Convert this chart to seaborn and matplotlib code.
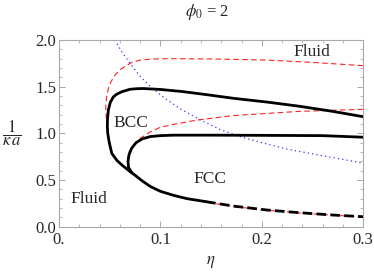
import numpy as np
import pandas as pd
import seaborn as sns
import matplotlib.pyplot as plt
from matplotlib.ticker import MultipleLocator, FixedFormatter, FixedLocator

# Phase boundaries (eta, 1/(kappa a))
outer_black_eta = [0.3, 0.27, 0.237, 0.205, 0.172, 0.145, 0.122, 0.1, 0.083, 0.0766, 0.07,
                   0.062, 0.057, 0.0535, 0.0505, 0.0486, 0.0478, 0.0476, 0.048, 0.0495,
                   0.052, 0.057, 0.062, 0.07, 0.075, 0.082, 0.09, 0.1, 0.113, 0.126, 0.145]
outer_black_inv = [1.178, 1.235, 1.29, 1.335, 1.375, 1.415, 1.447, 1.47, 1.48, 1.478, 1.472,
                   1.446, 1.42, 1.39, 1.33, 1.25, 1.16, 1.07, 1.0, 0.9,
                   0.785, 0.71, 0.66, 0.59, 0.55, 0.49, 0.43, 0.378, 0.335, 0.30, 0.267]

tail_black_eta = [0.145, 0.172, 0.205, 0.237, 0.27, 0.3]
tail_black_inv = [0.267, 0.22, 0.178, 0.149, 0.124, 0.106]

inner_black_eta = [0.072, 0.0685, 0.068, 0.069, 0.0716, 0.076, 0.082, 0.09, 0.1, 0.113,
                   0.15, 0.2, 0.26, 0.3]
inner_black_inv = [0.575, 0.63, 0.7, 0.77, 0.84, 0.9, 0.94, 0.965, 0.975, 0.98,
                   0.98, 0.978, 0.975, 0.958]

outer_red_eta = [0.3, 0.25, 0.205, 0.15, 0.106, 0.09, 0.08, 0.072, 0.067, 0.06, 0.055,
                 0.051, 0.0486, 0.047, 0.046, 0.0465, 0.0472, 0.048, 0.0495, 0.052, 0.057,
                 0.062, 0.07, 0.075, 0.082, 0.09, 0.1, 0.113, 0.126, 0.145, 0.172, 0.205,
                 0.237, 0.27, 0.3]
outer_red_inv = [1.725, 1.76, 1.785, 1.797, 1.8, 1.795, 1.785, 1.76, 1.73, 1.68, 1.62,
                 1.55, 1.48, 1.4, 1.285, 1.18, 1.1, 1.0, 0.9, 0.785, 0.71,
                 0.66, 0.59, 0.55, 0.49, 0.43, 0.376, 0.333, 0.298, 0.262, 0.215, 0.175,
                 0.146, 0.122, 0.104]

inner_red_eta = [0.3, 0.237, 0.172, 0.135, 0.113, 0.1, 0.09, 0.08, 0.073, 0.069, 0.0675,
                 0.069, 0.073]
inner_red_inv = [1.257, 1.235, 1.19, 1.14, 1.095, 1.065, 1.015, 0.945, 0.87, 0.8, 0.72,
                 0.64, 0.58]

blue_eta = [0.055, 0.062, 0.07, 0.08, 0.091, 0.105, 0.12, 0.14, 0.159, 0.18, 0.2, 0.225,
            0.25, 0.275, 0.3]
blue_inv = [2.0, 1.87, 1.75, 1.61, 1.49, 1.37, 1.26, 1.14, 1.04, 0.96, 0.9, 0.83,
            0.78, 0.73, 0.68]

x_ticks = [0.0, 0.1, 0.2, 0.3]
x_tick_labels = ['0.', '0.1', '0.2', '0.3']
y_ticks = [0.0, 0.5, 1.0, 1.5, 2.0]
y_tick_labels = ['0.0', '0.5', '1.0', '1.5', '2.0']

sns.set_style('ticks')
plt.rcParams['font.family'] = ['Liberation Serif', 'DejaVu Serif']
plt.rcParams['mathtext.fontset'] = 'stix'

fig = plt.figure(figsize=(3.74, 2.74), dpi=100)
ax = fig.add_axes([0.158, 0.173, 0.813, 0.681])

def curve(xs, ys, **kw):
    d = pd.DataFrame({'eta': xs, 'inv': ys})
    sns.lineplot(data=d, x='eta', y='inv', sort=False, estimator=None, ax=ax, **kw)

curve(blue_eta, blue_inv, color='#3333ff', linestyle=(0, (1, 2.5)), linewidth=0.9)
curve(outer_red_eta, outer_red_inv, color='#ff2222', linestyle=(0, (5, 3)), linewidth=0.8)
curve(inner_red_eta, inner_red_inv, color='#ff2222', linestyle=(0, (5, 3)), linewidth=0.8)
curve(outer_black_eta, outer_black_inv, color='black', linewidth=2.0)
curve(inner_black_eta, inner_black_inv, color='black', linewidth=2.0)
curve(tail_black_eta, tail_black_inv, color='black', linewidth=2.0, linestyle=(0, (3.5, 1.5)))

ax.set_xlim(0, 0.3)
ax.set_ylim(0, 2.0)
ax.xaxis.set_major_locator(FixedLocator(x_ticks))
ax.xaxis.set_major_formatter(FixedFormatter(x_tick_labels))
ax.yaxis.set_major_locator(FixedLocator(y_ticks))
ax.yaxis.set_major_formatter(FixedFormatter(y_tick_labels))
ax.xaxis.set_minor_locator(MultipleLocator(0.02))
ax.yaxis.set_minor_locator(MultipleLocator(0.1))
ax.tick_params(which='both', direction='in', top=True, right=True, color='#999999',
               labelsize=12)
ax.tick_params(axis='x', pad=4)
ax.tick_params(axis='y', pad=2)
ax.tick_params(which='major', length=4, width=0.6)
ax.tick_params(which='minor', length=2, width=0.5)
for s in ax.spines.values():
    s.set_color('#aaaaaa')
    s.set_linewidth(0.8)

ax.set_xlabel('')
ax.set_ylabel('')
fig.text(211 / 374, 1 - 262 / 274, r'$\eta$', fontsize=12, ha='center', va='center')
fig.text(12 / 374, 1 - 133 / 274, r'$\dfrac{1}{\kappa\,a}$', fontsize=12,
         ha='center', va='center')
fig.text(207 / 374, 1 - 12 / 274, r'$\phi_0$ = 2', fontsize=12, ha='center', va='center')

ax.text(0.249, 1.875, 'Fluid', fontsize=12.5, ha='center', va='center')
ax.text(0.071, 1.107, 'BCC', fontsize=12.5, ha='center', va='center')
ax.text(0.149, 0.507, 'FCC', fontsize=12.5, ha='center', va='center')
ax.text(0.029, 0.30, 'Fluid', fontsize=12.5, ha='center', va='center')

fig.savefig('out.png', dpi=100)
